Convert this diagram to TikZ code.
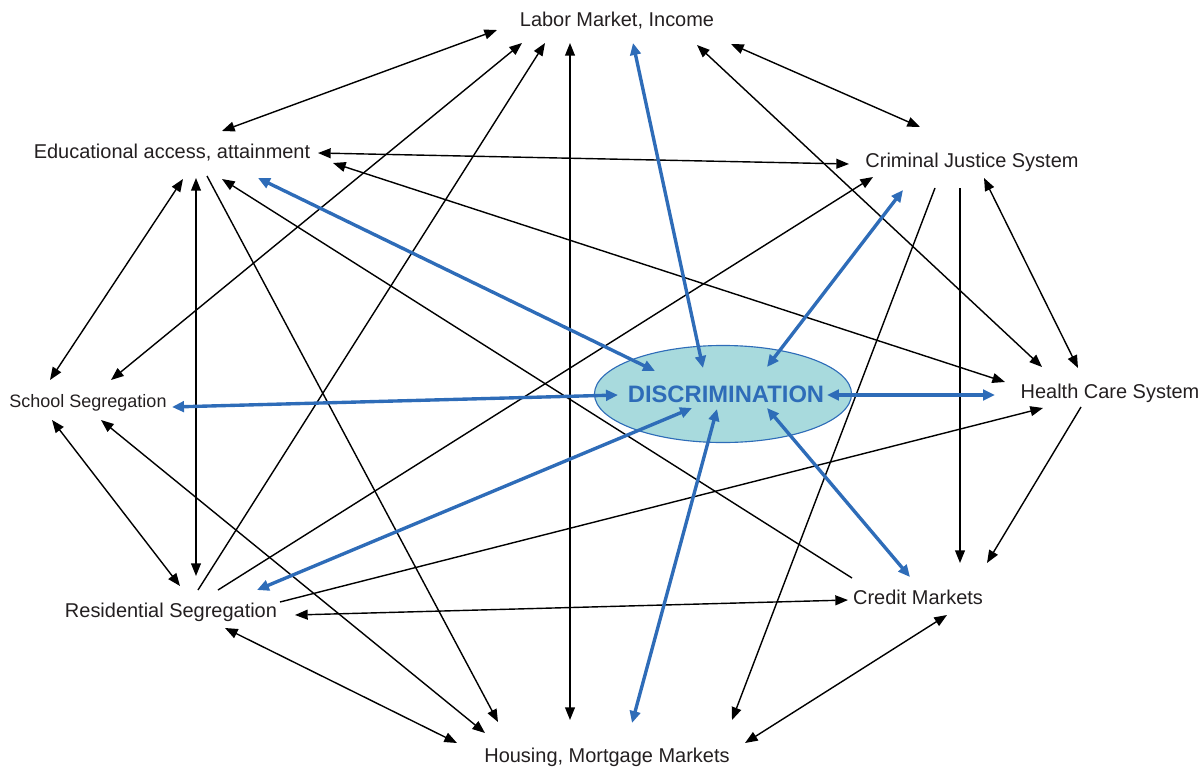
\documentclass[tikz,border=0pt]{standalone}
\usepackage{fontspec}
\setmainfont{Liberation Sans}
\usepackage{xcolor}
\usetikzlibrary{arrows.meta}
\usetikzlibrary{calc}
\usetikzlibrary{shapes.geometric}
\definecolor{bleulien}{RGB}{46,108,184}
\definecolor{fondellipse}{RGB}{168,218,221}
\definecolor{texte}{RGB}{35,31,32}

\begin{document}
\begin{tikzpicture}[x=0.025cm,y=-0.025cm]
\par
\tikzstyle{etiq}=[text=texte,inner sep=0pt,text height=12pt,text depth=1.83pt,font=\fontsize{14.2}{17}\selectfont]
\tikzstyle{lien}=[line width=1pt,>={Triangle[length=9pt,width=7pt]}]
\tikzstyle{lienbleu}=[line width=2.4pt,color=bleulien,<->,>={Triangle[length=8.5pt,width=7.5pt]}]
\useasboundingbox (0,0) rectangle (1202,769);
\par
\node[etiq] (marche) at (617,19) {Labor Market, Income};
\node[etiq] (educ) at (172,151) {Educational access, attainment};
\node[etiq] (justice) at (972,160) {Criminal Justice System};
\node[etiq,font=\fontsize{12.8}{15}\selectfont,text height=11pt,text depth=1.84pt] (ecole) at (88,401) {School Segregation};
\node[etiq] (sante) at (1110,391) {Health Care System};
\node[etiq] (residence) at (171,610) {Residential Segregation};
\node[etiq] (credit) at (918,597) {Credit Markets};
\node[etiq] (logement) at (607,755) {Housing, Mortgage Markets};
\node[ellipse,draw=bleulien,line width=0.8pt,fill=fondellipse,inner sep=0pt,minimum width=6.425cm,minimum height=2.425cm] (discri) at (723,394) {};
\node[text=bleulien,font=\bfseries\fontsize{16.9}{20}\selectfont,inner sep=0pt] (discrimot) at (726,394) {DISCRIMINATION};
\par
\draw[lien,<->] ($(educ)+(50,-20)$) -- ($(marche)+(-120,11)$);
\draw[lien,<->] ($(ecole)+(23,-21)$) -- ($(marche)+(-95,24)$);
\draw[lien,->] ($(residence)+(27,-20)$) -- ($(marche)+(-72,24)$);
\draw[lien,<->] ($(marche)+(-47,24)$) -- ($(logement)+(-37,-35)$);
\draw[lien,<->] ($(marche)+(80,26)$) -- ($(sante)+(-68,-24)$);
\draw[lien,<->] ($(marche)+(114,25)$) -- ($(justice)+(-52,-33)$);
\draw[lien,<->] ($(educ)+(146,2)$) -- ($(justice)+(-123,4)$);
\draw[lien,<->] ($(educ)+(161,12)$) -- ($(sante)+(-105,-9)$);
\draw[lien,<->] ($(educ)+(11,28)$) -- ($(ecole)+(-38,-21)$);
\draw[lien,<->] ($(educ)+(24,27)$) -- ($(residence)+(25,-34)$);
\draw[lien,->] ($(educ)+(35,25)$) -- ($(logement)+(-109,-33)$);
\draw[lien,->] ($(credit)+(-66,-19)$) -- ($(educ)+(50,28)$);
\draw[lien,<->] ($(ecole)+(-36,19)$) -- ($(residence)+(9,-24)$);
\draw[lien,<->] ($(ecole)+(13,19)$) -- ($(logement)+(-122,-22)$);
\draw[lien,->] ($(residence)+(47,-20)$) -- ($(justice)+(-99,17)$);
\draw[lien,->] ($(residence)+(109,-8)$) -- ($(sante)+(-67,17)$);
\draw[lien,<->] ($(residence)+(124,5)$) -- ($(credit)+(-70,3)$);
\draw[lien,<->] ($(residence)+(54,18)$) -- ($(logement)+(-150,-12)$);
\draw[lien,->] ($(justice)+(-37,28)$) -- ($(logement)+(125,-35)$);
\draw[lien,->] ($(justice)+(-12,28)$) -- ($(credit)+(42,-34)$);
\draw[lien,<->] ($(justice)+(12,18)$) -- ($(sante)+(-32,-23)$);
\draw[lien,->] ($(sante)+(-29,16)$) -- ($(credit)+(69,-34)$);
\draw[lien,<->] ($(credit)+(29,18)$) -- ($(logement)+(138,-12)$);
\par
\draw[lienbleu] ($(marche)+(16,24)$) -- ($(discri)+(-20,-26)$);
\draw[lienbleu] ($(educ)+(86,27)$) -- ($(discri)+(-68,-23)$);
\draw[lienbleu] ($(justice)+(-69,30)$) -- ($(discri)+(44,-27)$);
\draw[lienbleu] ($(ecole)+(84,6)$) -- ($(discri)+(-105,1)$);
\draw[lienbleu] ($(sante)+(-115,4)$) -- ($(discri)+(104,1)$);
\draw[lienbleu] ($(residence)+(86,-20)$) -- ($(discri)+(-31,14)$);
\draw[lienbleu] ($(logement)+(25,-32)$) -- ($(discri)+(-6,15)$);
\draw[lienbleu] ($(credit)+(-8,-20)$) -- ($(discri)+(44,14)$);
\par
\end{tikzpicture}
\end{document}
